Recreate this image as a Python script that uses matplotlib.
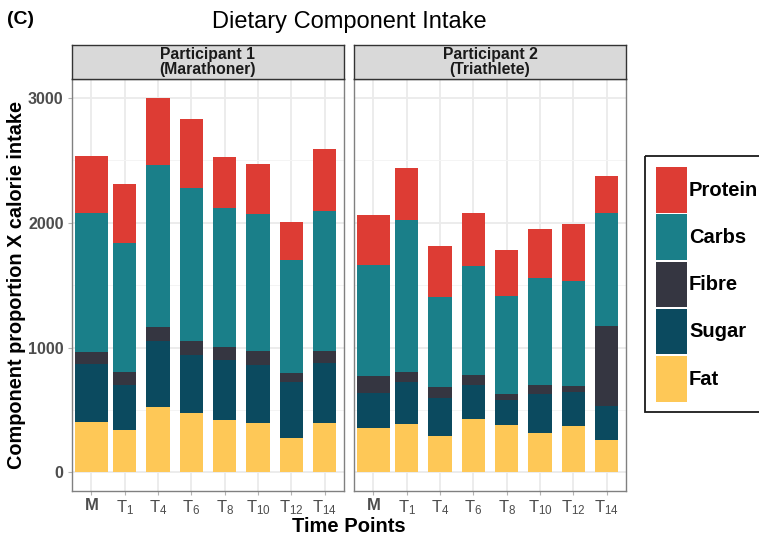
import matplotlib
matplotlib.use("Agg")
import matplotlib.pyplot as plt
from matplotlib.patches import Rectangle
import numpy as np

plt.rcParams['font.family'] = ['Liberation Sans', 'DejaVu Sans']
plt.rcParams['mathtext.fontset'] = 'custom'
plt.rcParams['mathtext.rm'] = 'Liberation Sans'

time_points = ['M', 'T1', 'T4', 'T6', 'T8', 'T10', 'T12', 'T14']
tick_labels = ['M'] + [r'$\mathregular{T_{%s}}$' % t[1:] for t in time_points[1:]]
components = ['Fat', 'Sugar', 'Fibre', 'Carbs', 'Protein']
colors = {'Protein': '#DD3C34', 'Carbs': '#1A7F89', 'Fibre': '#353641',
          'Sugar': '#0B4A5F', 'Fat': '#FEC857'}

# per-component intake (kcal), participant 1 (marathoner)
p1_fat = [401, 340, 527, 473, 422, 393, 273, 398]
p1_sugar = [465, 358, 524, 471, 482, 468, 454, 482]
p1_fibre = [99, 107, 117, 107, 101, 112, 70, 93]
p1_carbs = [1115, 1032, 1295, 1227, 1113, 1099, 901, 1118]
p1_protein = [452, 473, 540, 554, 406, 399, 305, 503]

# participant 2 (triathlete)
p2_fat = [353, 388, 291, 425, 377, 313, 372, 257]
p2_sugar = [281, 337, 308, 276, 201, 315, 272, 275]
p2_fibre = [141, 82, 85, 77, 48, 75, 46, 644]
p2_carbs = [883, 1217, 725, 872, 788, 853, 847, 902]
p2_protein = [401, 412, 409, 425, 369, 391, 452, 296]

panels = [
    ('Participant 1\n(Marathoner)',
     {'Fat': p1_fat, 'Sugar': p1_sugar, 'Fibre': p1_fibre, 'Carbs': p1_carbs, 'Protein': p1_protein}),
    ('Participant 2\n(Triathlete)',
     {'Fat': p2_fat, 'Sugar': p2_sugar, 'Fibre': p2_fibre, 'Carbs': p2_carbs, 'Protein': p2_protein}),
]

W, H = 759, 539
fig = plt.figure(figsize=(W / 100, H / 100), dpi=100)

def box(x0, y0, x1, y1):
    return [x0 / W, 1 - y1 / H, (x1 - x0) / W, (y1 - y0) / H]

panel_x = [(72, 344), (354, 626)]
x = np.arange(1, len(time_points) + 1)
widths = [1.0] + [0.7] * (len(time_points) - 1)

for i, ((title, data), (x0, x1)) in enumerate(zip(panels, panel_x)):
    ax = fig.add_axes(box(x0, 79, x1, 491))
    bottom = np.zeros(len(x))
    for comp in components:
        vals = np.array(data[comp], dtype=float)
        ax.bar(x, vals, width=widths, bottom=bottom, color=colors[comp],
               linewidth=0, zorder=3)
        bottom += vals
    ax.set_xlim(0.42, 8.58)
    ax.set_ylim(-150, 3153)
    ax.set_yticks([0, 1000, 2000, 3000])
    ax.set_yticks([500, 1500, 2500], minor=True)
    ax.set_xticks(x)
    ax.set_xticklabels(tick_labels)
    ax.grid(True, which='major', color='#EBEBEB', linewidth=1.3, zorder=0)
    ax.grid(True, which='minor', axis='y', color='#F4F4F4', linewidth=0.7, zorder=0)
    ax.tick_params(axis='both', which='major', length=3, color='#B3B3B3',
                   labelcolor='#4D4D4D')
    ax.tick_params(axis='x', labelsize=12, pad=2)
    ax.tick_params(axis='y', labelsize=11.5, pad=3)
    ax.tick_params(axis='y', which='minor', length=0)
    ax.get_xticklabels()[0].set_fontweight('bold')
    for lab in ax.get_yticklabels():
        lab.set_fontweight('bold')
    if i > 0:
        ax.tick_params(axis='y', labelleft=False, length=0)
    for s in ax.spines.values():
        s.set_color('#808080')
        s.set_linewidth(1.0)

    # facet strip
    st = fig.add_axes(box(x0, 45, x1, 79))
    st.set_facecolor('#D9D9D9')
    st.set_xticks([])
    st.set_yticks([])
    for s in st.spines.values():
        s.set_color('#333333')
        s.set_linewidth(1.0)
    st.text(0.5, 0.5, title, ha='center', va='center', fontsize=11.3,
            fontweight='bold', color='#1A1A1A', linespacing=0.95,
            transform=st.transAxes)

fig.text(349 / W, 1 - 22 / H, 'Dietary Component Intake', ha='center', va='center',
         fontsize=17)
fig.text(7 / W, 1 - 20 / H, '(C)', ha='left', va='center', fontsize=14,
         fontweight='bold')
fig.text(349 / W, 1 - 526 / H, 'Time Points', ha='center', va='center',
         fontsize=14.5, fontweight='bold')
fig.text(17 / W, 1 - 285 / H, 'Component proportion X calorie intake', ha='center',
         va='center', rotation=90, fontsize=14.3, fontweight='bold')

# legend box
lg = fig.add_axes(box(644, 155, 770, 413))
lg.set_xlim(644, 770)
lg.set_ylim(413, 155)
lg.axis('off')
lg.add_patch(Rectangle((645, 156), 130, 256, facecolor='none', edgecolor='#1A1A1A',
                       linewidth=1.3, clip_on=False))
for j, comp in enumerate(components[::-1]):
    top = 167 + j * 47.3
    lg.add_patch(Rectangle((656, top), 31, 45.5, facecolor=colors[comp], edgecolor='none'))
    lg.text(689, top + 23, comp, ha='left', va='center', fontsize=14.5,
            fontweight='bold', color='black')

fig.savefig('out.png', dpi=100)
